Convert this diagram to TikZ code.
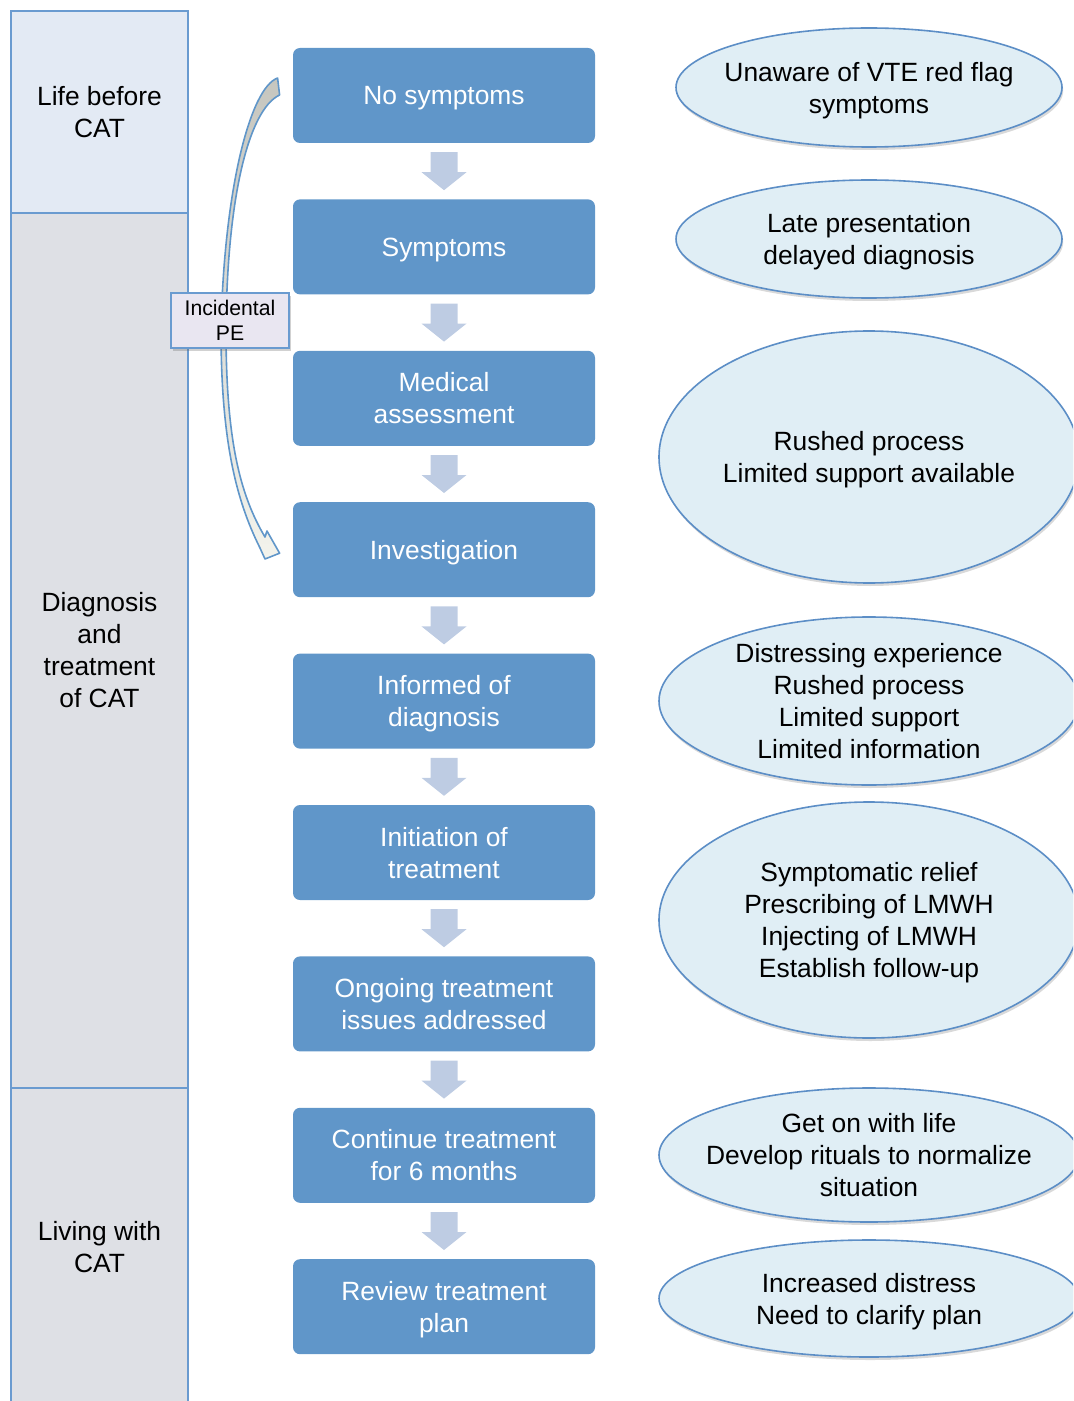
\documentclass[tikz,border=0pt]{standalone}
\usepackage{fontspec}
\setmainfont{Liberation Sans}
\usetikzlibrary{shapes.geometric,shadows,calc}
\definecolor{phaseTop}{HTML}{E3EAF4}
\definecolor{phaseGray}{HTML}{DEE0E5}
\definecolor{phaseBorder}{HTML}{6A9BD0}
\definecolor{boxBlue}{HTML}{6096C9}
\definecolor{arrowFill}{HTML}{BECCE3}
\definecolor{ellFill}{HTML}{E0EEF5}
\definecolor{ellBorder}{HTML}{5C8EC6}
\definecolor{peFill}{HTML}{E9E6F1}
\definecolor{curveTop}{HTML}{C6C6BF}
\definecolor{curveBot}{HTML}{F3F3EC}
\newcommand\bigtxt{\fontsize{13.2}{16}\selectfont}
\newcommand\smalltxt{\fontsize{10.6}{12.5}\selectfont}
\begin{document}
\begin{tikzpicture}[x=0.5pt,y=-0.5pt,
  phase/.style={draw=phaseBorder, line width=1pt, minimum width=88.5pt, inner sep=0pt, align=center, font=\bigtxt},
  stepbox/.style={fill=boxBlue, rounded corners=3.5pt, minimum width=151pt, minimum height=47.5pt, text=white, align=center, font=\bigtxt, inner sep=0pt, text depth=0pt},
  noteshape/.style={ellipse, draw=ellBorder, line width=0.8pt, fill=ellFill, inner sep=0pt,
    drop shadow={shadow xshift=0.6pt, shadow yshift=-1.5pt, opacity=0.25, fill=black!60}},
  notetext/.style={align=center, font=\bigtxt, inner sep=0pt, text depth=0pt},
  pebox/.style={draw=phaseBorder, fill=peFill, line width=1pt, minimum width=59pt, minimum height=27.5pt, inner sep=0pt, align=center, font=\smalltxt,
    drop shadow={shadow xshift=1pt, shadow yshift=-1.5pt, opacity=0.3, fill=black!60}},
  blockarrow/.style={fill=arrowFill},
  curvearrow/.style={draw=boxBlue, line width=0.8pt, line join=round, top color=curveTop, bottom color=curveBot}
]
\useasboundingbox (0,0) rectangle (1073,1401);
\clip (0,0) rectangle (1073,1401);

% left phase column
\node[phase, fill=phaseTop, minimum height=101pt] (p1) at (99.5,112) {Life before\\CAT};
\node[phase, fill=phaseGray, minimum height=437.5pt] (p2) at (99.5,650.5) {Diagnosis\\and\\treatment\\of CAT};
\node[phase, fill=phaseGray, minimum height=159pt] (p3) at (99.5,1247) {Living with\\CAT};

% process boxes
\node[stepbox] (b1) at (444,95.5) {No symptoms};
\node[stepbox] (b2) at (444,246.9) {Symptoms};
\node[stepbox] (b3) at (444,398.3) {Medical\\assessment};
\node[stepbox] (b4) at (444,549.7) {Investigation};
\node[stepbox] (b5) at (444,701.1) {Informed of\\diagnosis};
\node[stepbox] (b6) at (444,852.5) {Initiation of\\treatment};
\node[stepbox] (b7) at (444,1003.9) {Ongoing treatment\\issues addressed};
\node[stepbox] (b8) at (444,1155.3) {Continue treatment\\for 6 months};
\node[stepbox] (b9) at (444,1306.7) {Review treatment\\plan};

% block arrows between boxes
\foreach \i in {1,...,8}{
  \pgfmathtruncatemacro\j{\i+1}
  \coordinate (m\i) at ($(b\i.south)!0.5!(b\j.north)$);
  \fill[blockarrow] (m\i) +(-13.5,-19) -- +(13.5,-19) -- +(13.5,1) -- +(22.5,1) -- +(0,19) -- +(-22.5,1) -- +(-13.5,1) -- cycle;
}

% curved arrow (Incidental PE) from No symptoms to Investigation
\coordinate (ca1) at ($(b1.west)+(-15,-17.5)$);
\coordinate (ca2) at ($(b1.west)+(-13,-0.5)$);
\coordinate (tip) at ($(b4.west)+(-13,3.5)$);
\path[curvearrow] (ca1) .. controls (250,88) and (224,190) .. (221,330)
  .. controls (221,440) and (236,500) .. (260,548)
  -- (265,559) -- (tip) -- (267,531) -- (265,537)
  .. controls (240,495) and (226,440) .. (226,330)
  .. controls (227,200) and (248,110) .. (ca2) -- cycle;

\node[pebox] (pe) at (230,320.5) {Incidental\\PE};

% ellipses
\node[noteshape, minimum width=193pt, minimum height=59.5pt] (e1) at (869,87.5) {};
\node[notetext] (t1) at (e1.center) {Unaware of VTE red flag\\symptoms};
\node[noteshape, minimum width=193pt, minimum height=59pt] (e2) at (869,239) {};
\node[notetext] (t2) at (e2.center) {Late presentation\\delayed diagnosis};
\node[noteshape, minimum width=210pt, minimum height=126pt] (e3) at (869,457) {};
\node[notetext] (t3) at (e3.center) {Rushed process\\Limited support available};
\node[noteshape, minimum width=210pt, minimum height=84pt] (e4) at (869,701) {};
\node[notetext] (t4) at (e4.center) {Distressing experience\\Rushed process\\Limited support\\Limited information};
\node[noteshape, minimum width=210pt, minimum height=118pt] (e5) at (869,920) {};
\node[notetext] (t5) at (e5.center) {Symptomatic relief\\Prescribing of LMWH\\Injecting of LMWH\\Establish follow-up};
\node[noteshape, minimum width=210pt, minimum height=67pt] (e6) at (869,1155) {};
\node[notetext] (t6) at (e6.center) {Get on with life\\Develop rituals to normalize\\situation};
\node[noteshape, minimum width=210pt, minimum height=58.5pt] (e7) at (869,1298.5) {};
\node[notetext] (t7) at (e7.center) {Increased distress\\Need to clarify plan};
\end{tikzpicture}
\end{document}
